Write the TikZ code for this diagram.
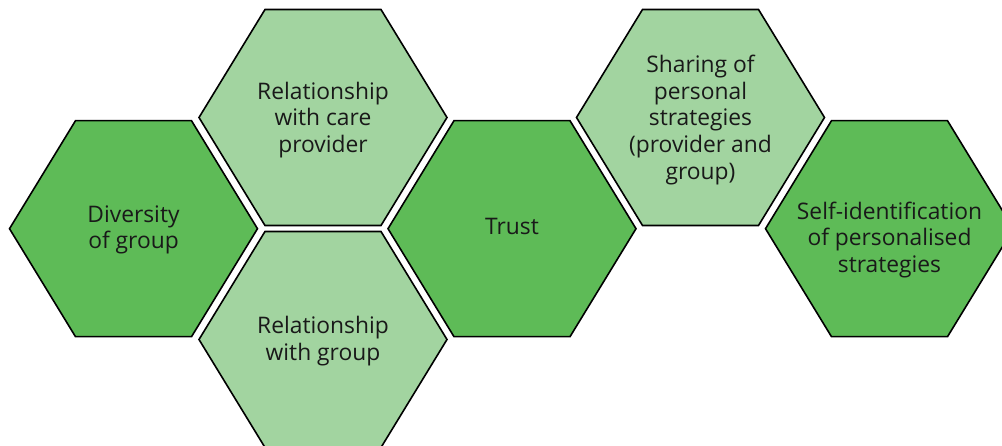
\documentclass[tikz,border=0pt]{standalone}
\usepackage{fontspec}
\setmainfont{Open Sans}
\definecolor{hexdark}{HTML}{5EBB57}
\definecolor{hexlight}{HTML}{A2D4A0}
\tikzset{
  hexshape/.style={draw=black, line width=1.6pt, line join=miter},
  hexd/.style={hexshape, fill=hexdark},
  hexl/.style={hexshape, fill=hexlight},
  lbl/.style={align=center, font=\fontsize{22.8}{26.7}\selectfont, text=black!90, inner sep=0pt}
}
\newcommand{\hexpath}[3]{%
  \path[#1] (#2,#3) ++(-124,0) -- ++(66,-108) -- ++(116,0) -- ++(66,108) -- ++(-66,108) -- ++(-116,0) -- cycle;}
\begin{document}
\begin{tikzpicture}[x=1pt,y=-1pt]
\useasboundingbox (0,0) rectangle (1002,446);
\clip (0,0) rectangle (1002,446);
\fill[white] (0,0) rectangle (1002,446);
\hexpath{hexd}{133.5}{228.7}
\hexpath{hexl}{323}{117.5}
\hexpath{hexl}{323}{339.5}
\hexpath{hexd}{512}{228.7}
\hexpath{hexl}{700.5}{117.5}
\hexpath{hexd}{889.5}{228.7}
\node[lbl] (div) at (133.5,230) {Diversity\\of group};
\node[lbl] (care) at (323,120) {Relationship\\with care\\provider};
\node[lbl] (grp) at (323,341) {Relationship\\with group};
\node[lbl] (trust) at (512,226) {Trust};
\node[lbl] (share) at (700.5,120) {Sharing of\\personal\\strategies\\(provider and\\group)};
\node[lbl] (self) at (889.5,240) {Self-identification\\of personalised\\strategies};
\end{tikzpicture}
\end{document}
